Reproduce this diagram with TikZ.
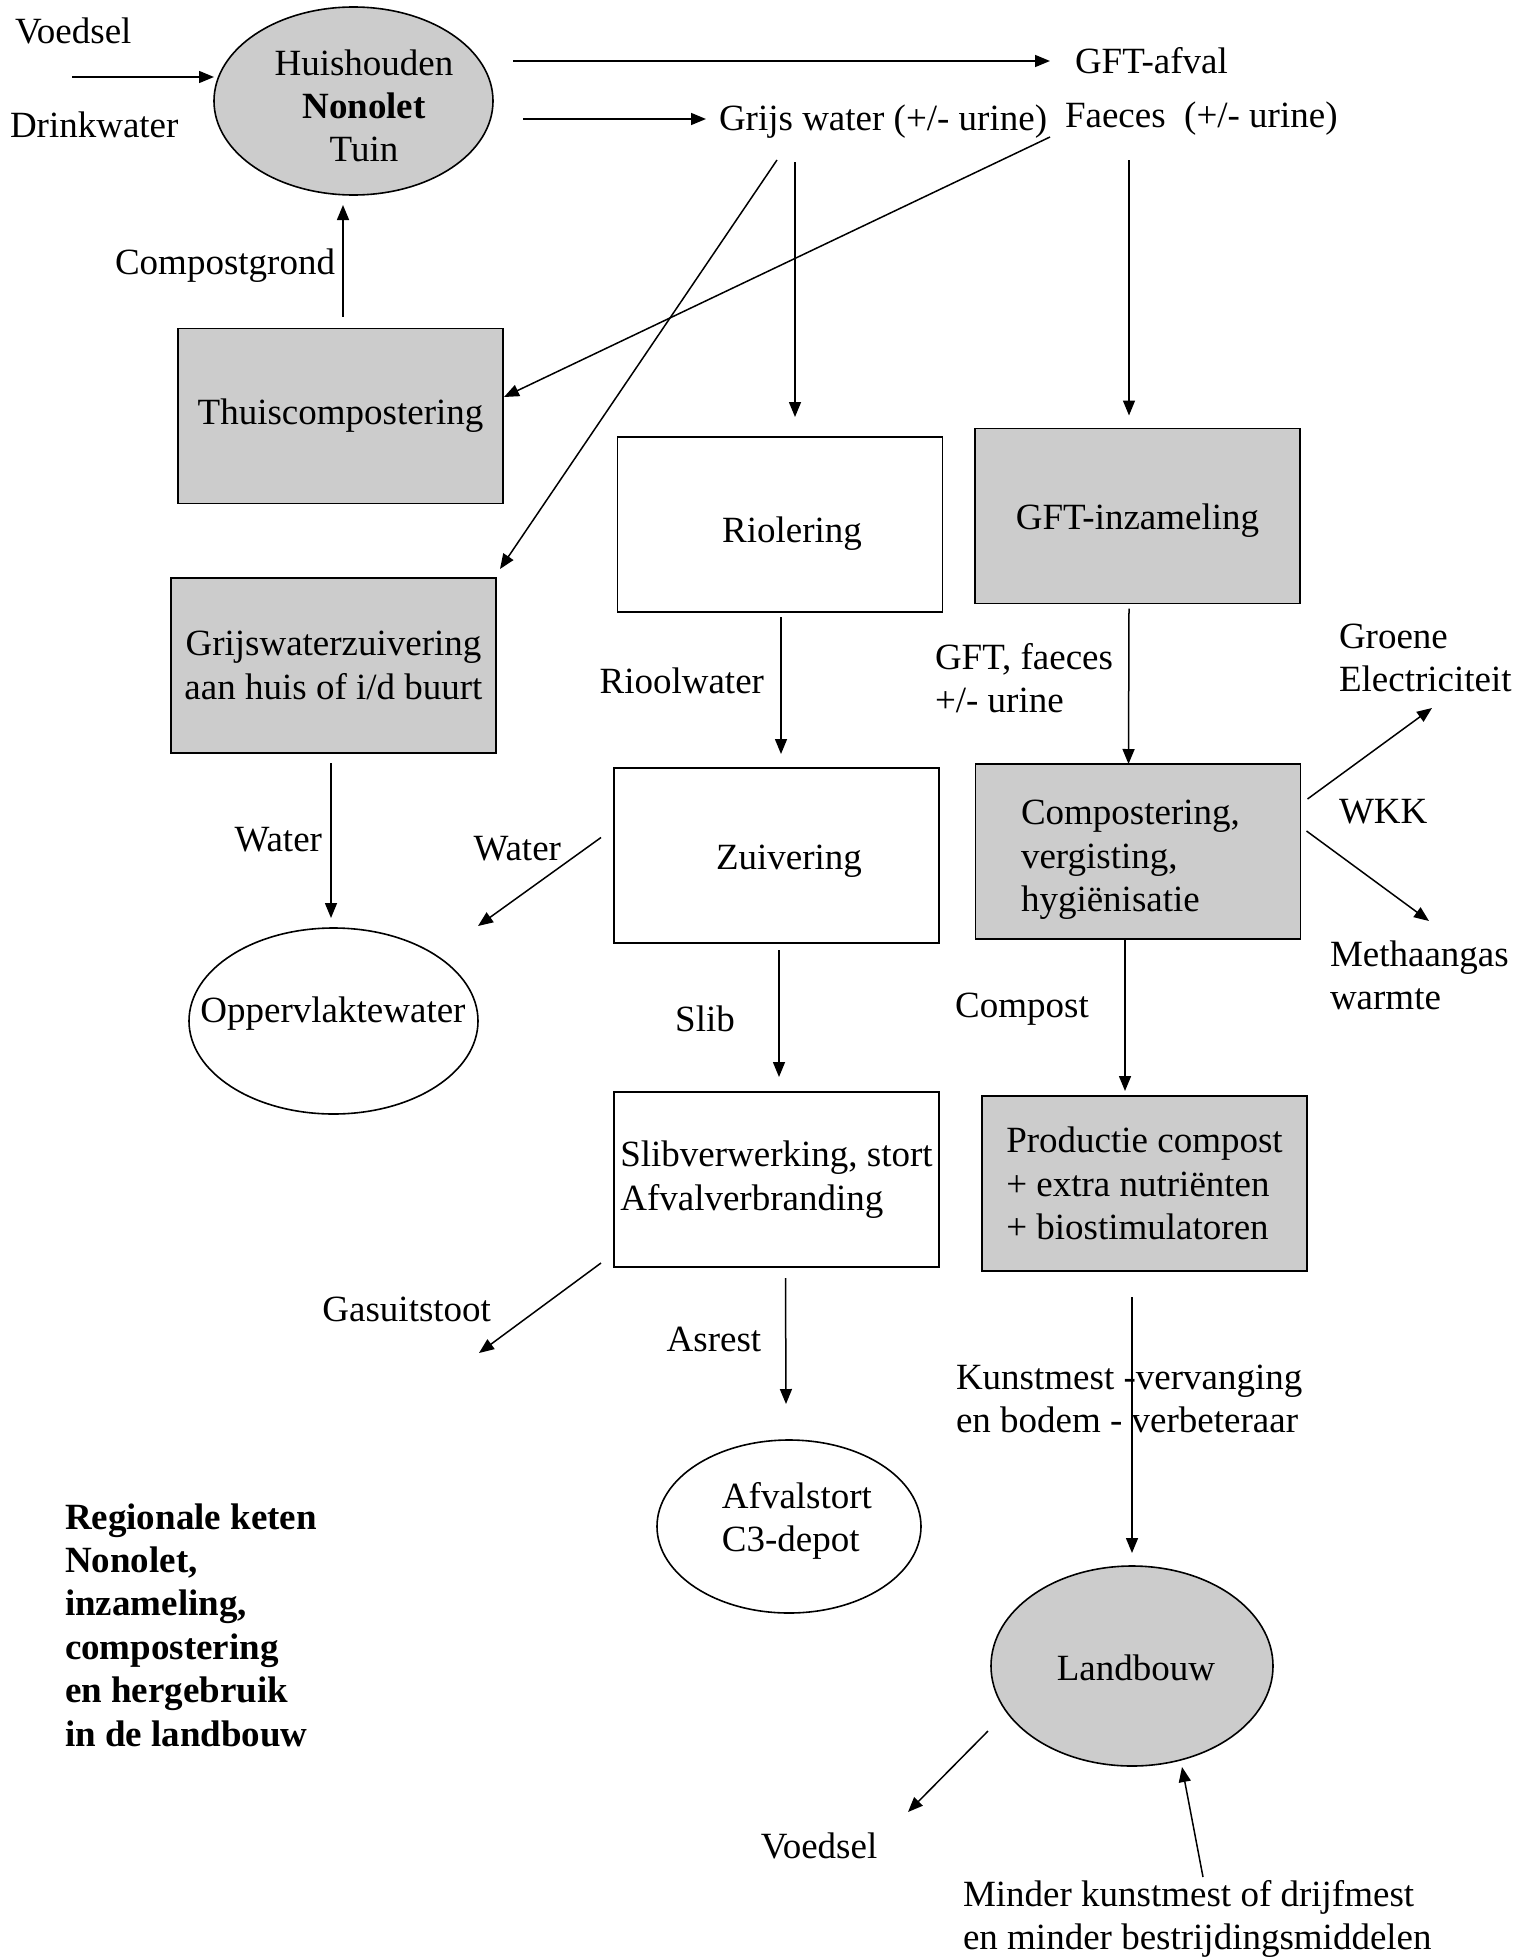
\documentclass[tikz,border=0pt]{standalone}
\usepackage{fontspec}
\setmainfont{Liberation Serif}
\usetikzlibrary{arrows.meta,shapes.geometric,calc}
\definecolor{boxgray}{HTML}{CCCCCC}
\begin{document}
\begin{tikzpicture}[x=1pt,y=-1pt,
  every node/.style={font=\fontsize{37}{43.3}\selectfont, inner sep=0pt, outer sep=0pt},
  box/.style={draw, line width=1.6pt, minimum width=325pt, minimum height=175pt, align=left},
  graybox/.style={box, fill=boxgray},
  oval/.style={draw, ellipse, line width=1.6pt},
  arr/.style={line width=1.5pt, -{Triangle[length=15pt,width=12pt]}},
  lbl/.style={align=left}]
\useasboundingbox (0,0) rectangle (1518,1959);

% ---------- nodes ----------
\node[oval, fill=boxgray, minimum width=279pt, minimum height=188pt] (hh) at (353.5,101) {};
\node[align=center] (hht) at (364,106) {Huishouden\\\textbf{Nonolet}\\Tuin};

\node[lbl, anchor=west] (voedselin) at (15,31) {Voedsel};
\node[lbl, anchor=west] (drink) at (10,125) {Drinkwater};
\coordinate (vin) at (72,77);

\node[lbl, anchor=west] (gftafval) at (1075,61) {GFT-afval};
\node[lbl, anchor=west] (grijs) at (719,122) {Grijs water (+/- urine)};
\node[lbl, anchor=west] (faeces) at (1065,119) {Faeces\ \ (+/- urine)};

\node[graybox] (thuis) at (340.5,416) {Thuiscompostering};
\node[anchor=east] (cg) at (335,266) {Compostgrond};

\node[graybox, align=center] (gwz) at (333.5,665.5) {Grijswaterzuivering\\aan huis of i/d buurt};
\node[box] (riool) at (780,524.5) {};
\node (rioolt) at (792,534) {Riolering};
\node[graybox] (gft) at (1137.5,516) {};
\node (gftt) at (1137.5,521) {GFT-inzameling};

\node[anchor=east] (rw) at (764,681) {Rioolwater};
\node[box] (zuiv) at (776.5,855.5) {};
\node (zuivt) at (789,861) {Zuivering};
\node[anchor=east] (w1) at (322,840) {Water};
\node[anchor=east] (w2) at (561,849) {Water};

\node[oval, minimum width=289pt, minimum height=186pt] (opp) at (333.5,1021) {};
\node (oppt) at (333,1014) {Oppervlaktewater};

\node (slib) at (705,1019) {Slib};
\node[box] (slv) at (776.5,1179.5) {Slibverwerking, stort\\Afvalverbranding};
\node[anchor=east] (gas) at (491,1309) {Gasuitstoot};
\coordinate (gasend) at (479,1353);
\node (asr) at (714,1339) {Asrest};
\node[oval, minimum width=264pt, minimum height=173pt] (afv) at (789,1526.5) {};
\node[align=left] (afvt) at (797,1521) {Afvalstort\\C3-depot};

\node[anchor=west, align=left] (gftl) at (935,678) {GFT, faeces\\+/- urine};
\node[graybox] (comp) at (1138,851.5) {};
\node[anchor=west, align=left] (compt) at (1021,860) {Compostering,\\vergisting,\\hygiënisatie};
\node[anchor=west, align=left] (groene) at (1339,658) {Groene\\Electriciteit};
\coordinate (gre) at (1432,708);
\node[anchor=west] (wkk) at (1339,812) {WKK};
\coordinate (mte) at (1429,921);
\node[anchor=west, align=left] (meth) at (1330,975) {Methaangas\\warmte};

\node (compl) at (1022,1009) {Compost};
\node[graybox] (prod) at (1144.5,1183.5) {Productie compost\\+ extra nutriënten\\+ biostimulatoren};
\node[anchor=west, align=left] (kunst) at (956,1399) {Kunstmest -vervanging\\en bodem - verbeteraar};

\node[oval, fill=boxgray, minimum width=282pt, minimum height=200pt] (land) at (1132,1666) {};
\node (landt) at (1136,1668) {Landbouw};
\coordinate (vout) at (908,1812);
\node (voedsel2) at (819,1846) {Voedsel};
\node[anchor=west, align=left] (minder) at (963,1919) {Minder kunstmest of drijfmest\\en minder bestrijdingsmiddelen};
\coordinate (mstart) at (1203,1877);

\node[anchor=west, align=left, font=\fontsize{37}{43.4}\selectfont\bfseries] (reg) at (65,1625)
  {Regionale keten\\Nonolet,\\inzameling,\\compostering\\en hergebruik\\in de landbouw};

% ---------- connectors ----------
\draw[arr] (vin) -- (vin -| hh.west);
\draw[arr] ($(hh.east |- gftafval.west)+(20,0)$) -- ($(gftafval.west)+(-25,0)$);
\draw[arr] ($(hh.east |- grijs.west)+(30,-3)$) -- ($(grijs.west)+(-13,-3)$);

\draw[arr] ($(thuis.north)+(2.5,-12)$) -- ($(hh.south)+(-10.5,10)$);
\draw[arr] ($(faeces.west)+(-15,18)$) -- ($(thuis.east)+(1,-19)$);
\draw[arr] ($(grijs.west)+(58,38)$) -- ($(gwz.north east)+(4,-9)$);
\draw[arr] ($(grijs.west -| riool.north)+(15,40)$) -- ($(riool.north)+(15,-20)$);
\draw[arr] ($(faeces.west -| gft.north)+(-8.5,41)$) -- ($(gft.north)+(-8.5,-13)$);

\draw[arr] ($(gwz.south)+(-2.5,10)$) -- ($(opp.north)+(-2.5,-10)$);
\draw[arr] ($(riool.south)+(1,5)$) -- ($(zuiv.north)+(4.5,-14)$);
\draw[arr] ($(zuiv.west)+(-13,-18)$) -- ($(opp.east)+(0,-95)$);
\draw[arr] ($(zuiv.south)+(2.5,7)$) -- ($(slv.north)+(2.5,-15)$);

\draw[arr] ($(slv.south west)+(-13,-4)$) -- (gasend);
\draw[arr] ($(slv.south)+(9,11)$) -- ($(afv.north)+(-3,-36)$);

\draw[arr] ($(gft.south)+(-8.5,5)$) -- ($(comp.north)+(-9.5,0)$);
\draw[arr] ($(comp.north east)+(7,35)$) -- (gre);
\draw[arr] ($(comp.east)+(6,-20.5)$) -- (mte);
\draw[arr] ($(comp.south)+(-13,-1)$) -- ($(prod.north)+(-19.5,-5)$);
\draw[arr] ($(prod.south)+(-12.5,26)$) -- ($(land.north)+(0,-13)$);

\draw[arr] ($(land.center)+(-144,65)$) -- (vout);
\draw[arr] (mstart) -- ($(land.center)+(50,101)$);
\end{tikzpicture}
\end{document}
